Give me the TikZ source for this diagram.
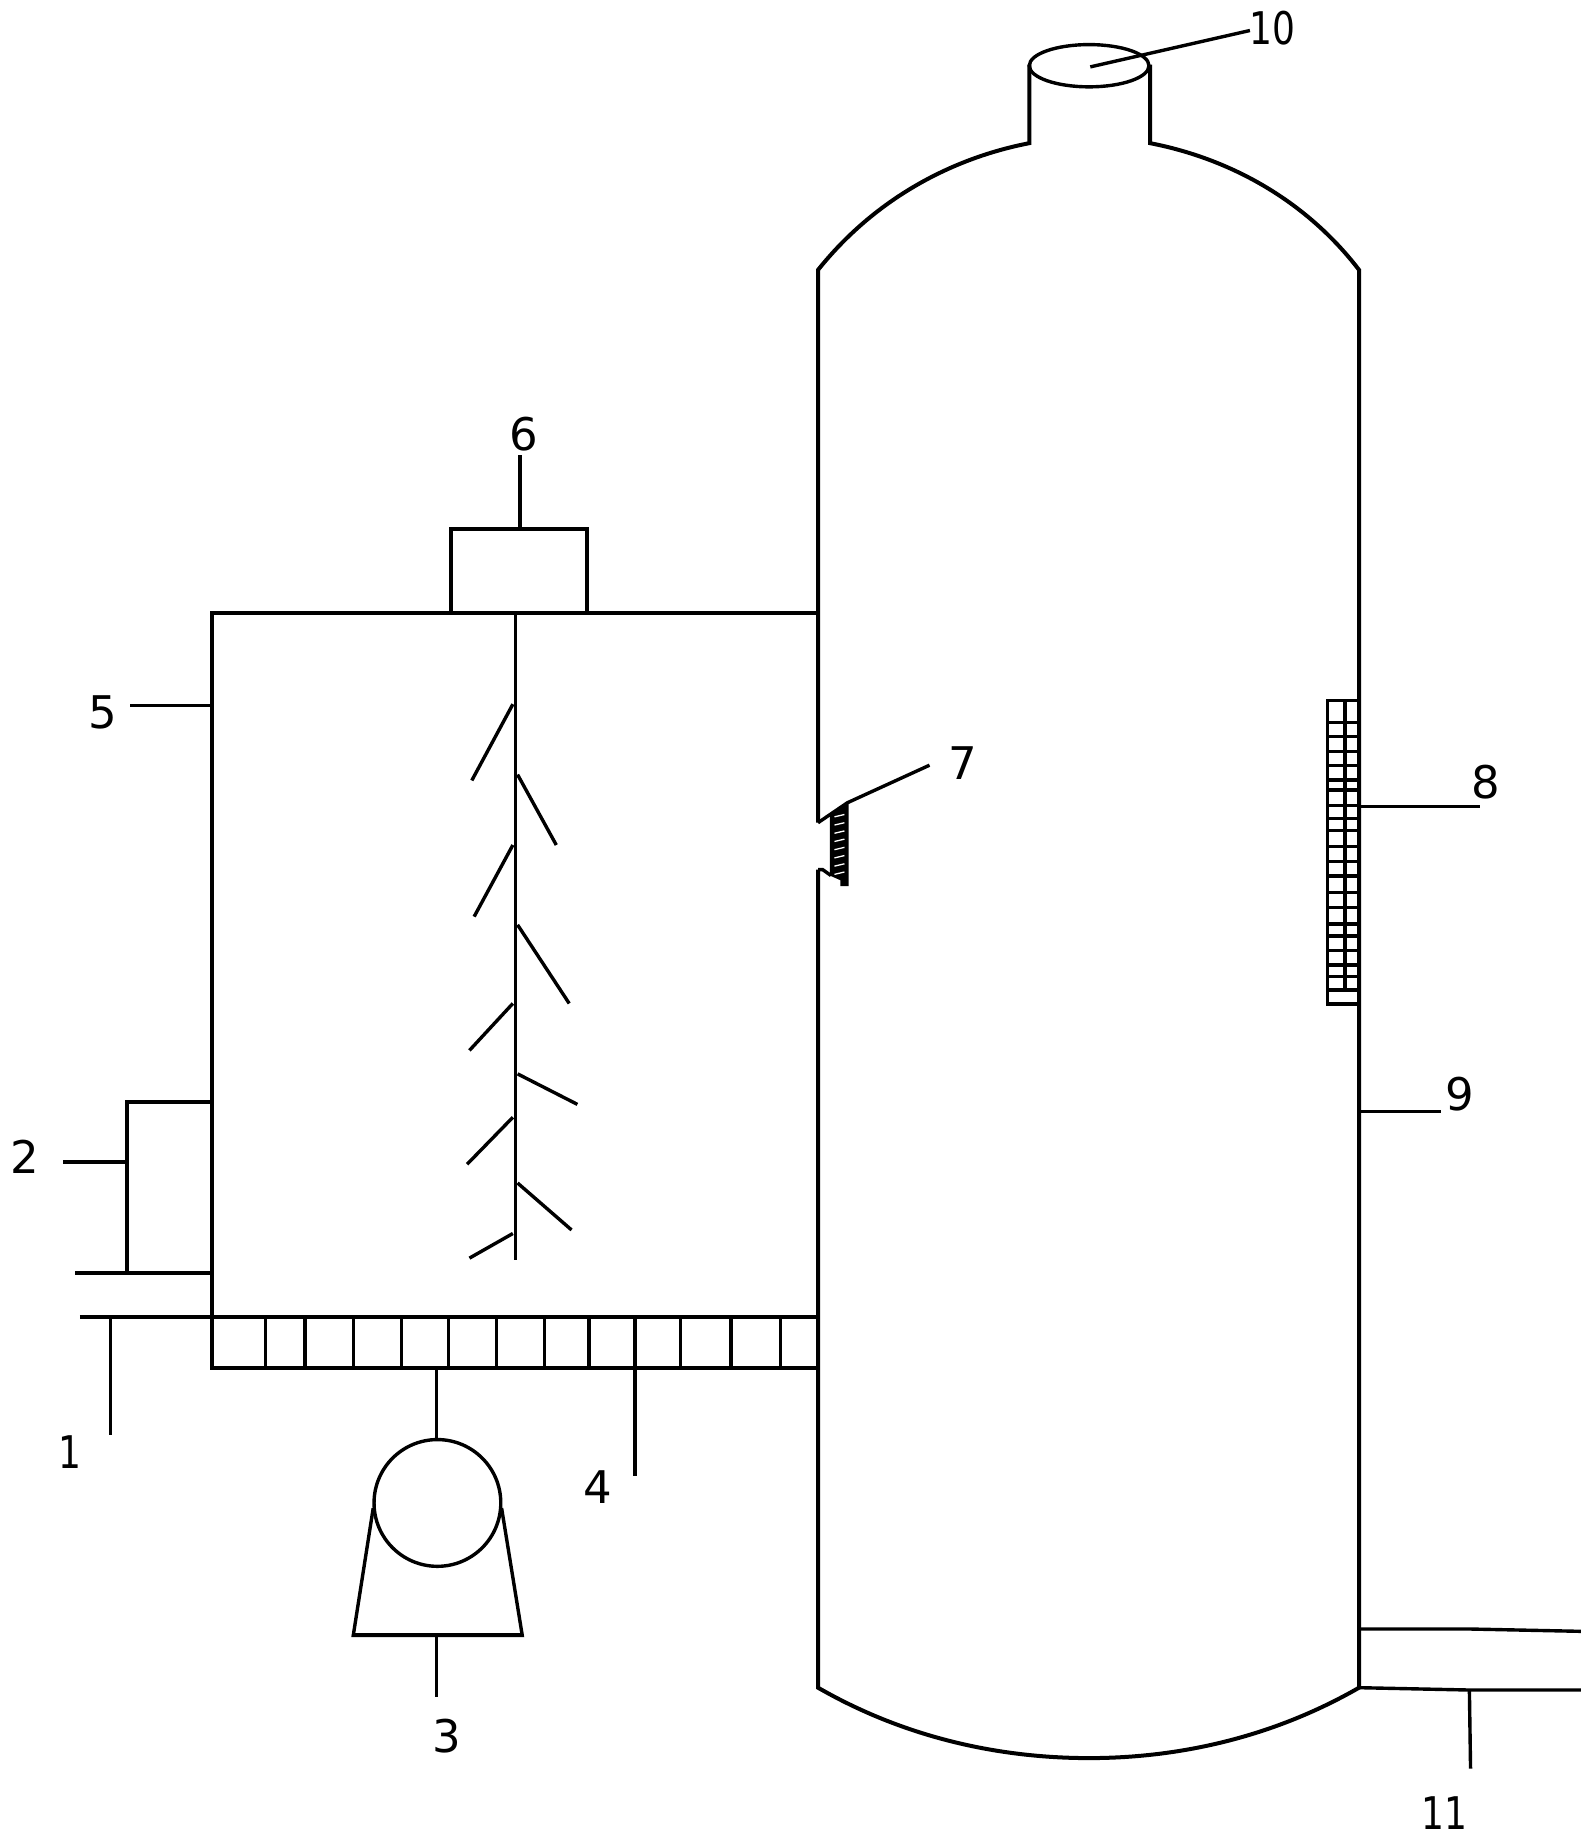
\documentclass[tikz,border=0pt]{standalone}
\usepackage{fontspec}
\setmainfont[FakeStretch=0.8]{DejaVu Sans}
\newfontfamily\widedigits[FakeStretch=1.0]{DejaVu Sans}
\tikzset{
  wall/.style={line width=4pt,line join=miter,black},
  thin line/.style={line width=3.4pt,black},
  lab/.style={inner sep=0pt,font=\fontsize{45}{48}\selectfont},
  labwide/.style={inner sep=0pt,font=\fontsize{45}{48}\widedigits}
}
\begin{document}
\begin{tikzpicture}[x=1.1736pt,y=-1.1736pt]
\useasboundingbox (0,0) rectangle (1356.5,1567.8);
% tower
\draw[wall] (697,701) -- (697,230) .. controls (745,170) and (810,135) .. (877,122) -- (877,55);
\draw[wall] (980,55) -- (980,122) .. controls (1047,135) and (1112,170) .. (1158,230) -- (1158,1438)
  .. controls (1085,1480) and (1005,1498) .. (928,1498) .. controls (850,1498) and (770,1480) .. (697,1438) -- (697,741);
\draw[thin line] (928,56) ellipse [x radius=51,y radius=18];
\draw[thin line] (929,57) -- (1065,26);
% notch and screen 7
\draw[thin line] (697,701) -- (722,684) -- (792,652);
\draw[thin line] (697,741) -- (701,741) -- (708,746);
\fill[black] (707,693) -- (723,683) -- (723,755) -- (716,755) -- (716,750) -- (707,746) -- cycle;
\foreach \y in {695,702,709,716,723,730,737,744}
  \draw[white,line width=1.3pt] (711,\y+1) -- (719.5,\y-1);
% grid 8
\draw[thin line] (1158,597) -- (1131.3,597) -- (1131.3,855.5) -- (1158,855.5);
\draw[thin line] (1146,597) -- (1146,843.6);
\foreach \v in {127,170,214,257,300,330,377,415,452,500,545,588,638,683,732,768,812,855,890,930}
  \draw[thin line] (1131.3,{(680+\v/3)/1.1736}) -- (1158,{(680+\v/3)/1.1736});
\draw[thin line] (1158,687) -- (1261,687);
% leader 9
\draw[thin line] (1158,947) -- (1228,947);
% outlet
\draw[thin line] (1158,1388) -- (1252,1388) -- (1347,1390);
\draw[thin line] (1158,1438) -- (1252,1440) -- (1347,1440);
\draw[thin line] (1252,1440) -- (1253,1507);
% mixing box
\draw[wall] (181,1122) -- (181,522) -- (697,522);
\draw[wall] (384,522) -- (384,451) -- (500,451) -- (500,522);
\draw[thin line] (443,451) -- (443,388);
\draw[thin line] (439,522) -- (439,1074);
\foreach \a/\b/\c/\d in {437/600/402/665,441/660/474/720,437/720/404/781,441/788/485/855,437/855/400/895,441/915/492/941,437/952/398/992,441/1008/487/1048,437/1051/400/1072}
  \draw[thin line] (\a,\b) -- (\c,\d);
\draw[thin line] (111,601) -- (181,601);
% inlet 2
\draw[wall] (181,939) -- (108,939) -- (108,1085);
\draw[wall] (64,1085) -- (181,1085);
\draw[thin line] (54,990) -- (108,990);
% bottom pipe and distributor 4
\draw[wall] (68,1122) -- (697,1122);
\draw[wall] (181,1122) -- (181,1166) -- (697,1166);
\foreach \x in {226,260,301,342,382,423,464,502,580,623,665}
  \draw[thin line] (\x,1122) -- (\x,1166);
\draw[thin line] (541,1122) -- (541,1258);
\draw[thin line] (94,1122) -- (94,1223);
% pump 3
\draw[thin line] (372,1166) -- (372,1227);
\draw[thin line] (372.7,1280.6) circle [radius=54];
\draw[thin line] (318,1285) -- (301,1393.5) -- (445,1393.5) -- (427.4,1285);
\draw[wall] (301,1393.5) -- (445,1393.5);
\draw[thin line] (372,1393) -- (372,1446);
% labels
\node[lab] (n1) at (60,1237) {1};
\node[labwide] (n2) at (21,986) {2};
\node[labwide] (n3) at (381,1479) {3};
\node[labwide] (n4) at (509,1267) {4};
\node[labwide] (n5) at (88,607) {5};
\node[labwide] (n6) at (446,370) {6};
\node[labwide] (n7) at (820,650) {7};
\node[labwide] (n8) at (1266,666) {8};
\node[labwide] (n9) at (1244,932) {9};
\node[lab] (n10) at (1084,24) {10};
\node[lab] (n11) at (1231,1545) {11};
\end{tikzpicture}
\end{document}
